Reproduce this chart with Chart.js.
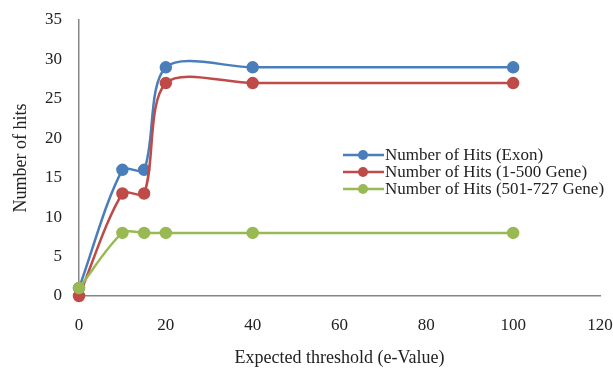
<!DOCTYPE html>
<html>
<head>
<meta charset="utf-8">
<script src="https://cdn.jsdelivr.net/npm/chart.js@4"></script>
<style>
html,body{margin:0;padding:0;background:#fff;}
#wrap{width:613px;height:369px;}
</style>
</head>
<body>
<div id="wrap"><canvas id="c" width="613" height="369"></canvas></div>
<script>
const thresholds = [0, 10, 15, 20, 40, 100];
const exonHits = [1, 16, 16, 29, 29, 29];
const gene1to500Hits = [0, 13, 13, 27, 27, 27];
const gene501to727Hits = [1, 8, 8, 8, 8, 8];
const seriesLabels = ['Number of Hits (Exon)', 'Number of Hits (1-500 Gene)', 'Number of Hits (501-727 Gene)'];
const xTicks = [0, 20, 40, 60, 80, 100, 120];
const yTicks = [0, 5, 10, 15, 20, 25, 30, 35];

const colors = ['#4A7EBB', '#BE4B48', '#98B954'];
const FONT = '"Liberation Serif", "Times New Roman", serif';

function pts(vals){ return thresholds.map((x,i)=>({x:x,y:vals[i]})); }

const seriesData = [exonHits, gene1to500Hits, gene501to727Hits];
const datasets = seriesData.map((vals,i)=>({
  label: seriesLabels[i],
  data: pts(vals),
  borderColor: colors[i],
  backgroundColor: colors[i],
  pointBackgroundColor: colors[i],
  pointBorderColor: colors[i],
  pointRadius: 5,
  pointHoverRadius: 5,
  borderWidth: 2.5,
  tension: 0.3,
  clip: false,
  order: 3 - i
}));

const legendPlugin = {
  id: 'customLegend',
  afterDraw(chart){
    const ctx = chart.ctx;
    ctx.save();
    ctx.font = '17px ' + FONT;
    ctx.textBaseline = 'middle';
    ctx.textAlign = 'left';
    const x0 = 343, y0 = 155, dy = 17;
    seriesLabels.forEach((lab,i)=>{
      const y = y0 + i*dy;
      ctx.strokeStyle = colors[i];
      ctx.lineWidth = 2.5;
      ctx.beginPath(); ctx.moveTo(x0, y); ctx.lineTo(x0+41, y); ctx.stroke();
      ctx.fillStyle = colors[i];
      ctx.beginPath(); ctx.arc(x0+20, y, 5, 0, Math.PI*2); ctx.fill();
      ctx.fillStyle = '#222';
      ctx.fillText(lab, x0+42, y+1);
    });
    ctx.restore();
  }
};

new Chart(document.getElementById('c'), {
  type: 'line',
  data: { datasets: datasets },
  options: {
    responsive: false,
    animation: false,
    events: [],
    layout: { padding: { left: 0, right: 13, top: 20, bottom: 0 } },
    plugins: { legend: { display: false }, tooltip: { enabled: false } },
    scales: {
      x: {
        type: 'linear', min: 0, max: 120,
        afterBuildTicks(s){ s.ticks = xTicks.map(v=>({value:v})); },
        afterFit(s){ s.height = 73; s.paddingLeft = 0; s.paddingRight = 0; },
        grid: { display: false, drawTicks: false },
        border: { display: true, color: '#868686', width: 1.5 },
        ticks: { color: '#222', font: { family: FONT, size: 17 }, padding: 19, maxRotation: 0 },
        title: { display: true, text: 'Expected threshold (e-Value)', color: '#222', font: { family: FONT, size: 18 }, padding: { top: 8, bottom: 0 } }
      },
      y: {
        min: 0, max: 35,
        afterBuildTicks(s){ s.ticks = yTicks.map(v=>({value:v})); },
        afterFit(s){ s.width = 79; s.paddingTop = 0; s.paddingBottom = 0; },
        grid: { display: false, drawTicks: false },
        border: { display: true, color: '#868686', width: 1.5 },
        ticks: { color: '#222', font: { family: FONT, size: 17 }, padding: 17 },
        title: { display: true, text: 'Number of hits', color: '#222', font: { family: FONT, size: 18 }, padding: { top: 10, bottom: 0 } }
      }
    }
  },
  plugins: [legendPlugin]
});
</script>
</body>
</html>
